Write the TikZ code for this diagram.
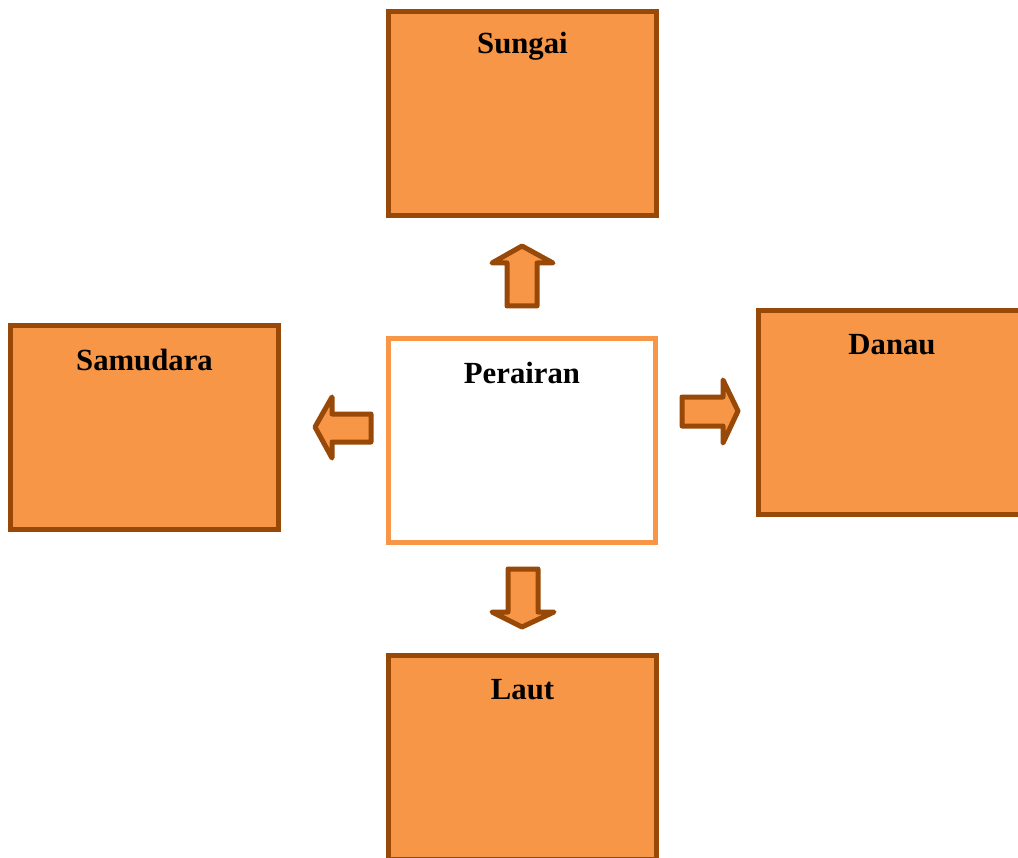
\documentclass[tikz,border=0pt]{standalone}
\usepackage{fontspec}
\setmainfont{Liberation Serif}
\usepackage{xcolor}
\usetikzlibrary{calc}
\definecolor{oranye}{RGB}{247,150,70}
\definecolor{coklat}{RGB}{152,72,7}

\begin{document}
\begin{tikzpicture}[x=0.02cm,y=-0.02cm,
    kotak/.style={draw=coklat,fill=oranye,line width=0.1cm,
                  minimum width=5.36cm,minimum height=4.08cm,inner sep=0pt},
    pusat/.style={kotak,draw=oranye,fill=white},
    judul/.style={font=\fontsize{17.5}{20}\selectfont\bfseries,inner sep=0pt},
    panah/.style={draw=coklat,fill=oranye,line width=0.1cm,line join=round}]
    \clip (0,0) rectangle (1018,858);
    \fill[white] (0,0) rectangle (1018,858);
    \node[kotak] (sungai) at (522.5,113.5) {};
    \node[kotak] (samudara) at (144.5,427.5) {};
    \node[pusat] (perairan) at (522,440.5) {};
    \node[kotak] (danau) at (892,412.5) {};
    \node[kotak] (laut) at (522.5,757.5) {};
    \node[judul] (t1) at ([yshift=-0.74cm]sungai.north) {Sungai};
    \node[judul] (t2) at ([yshift=-0.74cm]samudara.north) {Samudara};
    \node[judul] (t3) at ([yshift=-0.74cm]perairan.north) {Perairan};
    \node[judul] (t4) at ([yshift=-0.74cm]danau.north) {Danau};
    \node[judul] (t5) at ([yshift=-0.74cm]laut.north) {Laut};
    % panah blok
    \draw[panah] (522,246) -- (553,263) -- (537,263) -- (537,306)
      -- (507,306) -- (507,263) -- (492,263) -- cycle;
    \draw[panah] (315,427) -- (332,397) -- (332,414) -- (371,414)
      -- (371,442) -- (332,442) -- (332,458) -- cycle;
    \draw[panah] (738,411) -- (723,380) -- (723,397) -- (682,397)
      -- (682,426) -- (723,426) -- (723,443) -- cycle;
    \draw[panah] (522,627) -- (554,612) -- (538,612) -- (538,569)
      -- (508,569) -- (508,612) -- (492,612) -- cycle;
  \end{tikzpicture}
\end{document}
